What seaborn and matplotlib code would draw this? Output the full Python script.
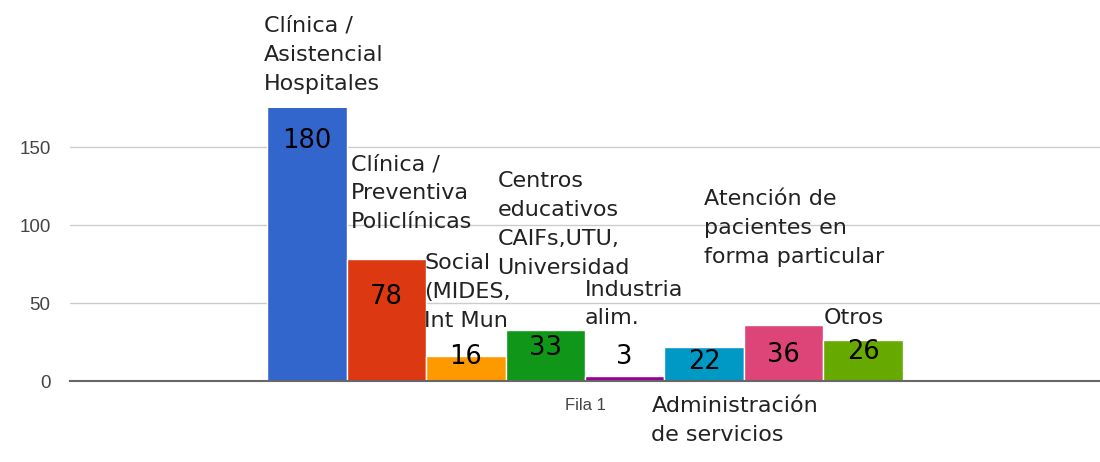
import pandas as pd
import matplotlib
matplotlib.use("Agg")
import matplotlib.pyplot as plt
import matplotlib.transforms as mtransforms
import seaborn as sns

# data
categories = ["Fila 1"]
series = [
    "Clínica /\nAsistencial\nHospitales",
    "Clínica /\nPreventiva\nPoliclínicas",
    "Social\n(MIDES,\nInt Mun",
    "Centros\neducativos\nCAIFs,UTU,\nUniversidad",
    "Industria\nalim.",
    "Administración\nde servicios",
    "Atención de\npacientes en\nforma particular",
    "Otros",
]
values = [180, 78, 16, 33, 3, 22, 36, 26]
colors = ["#3366cc", "#dc3912", "#ff9900", "#109618",
          "#990099", "#0099c6", "#dd4477", "#66aa00"]

# label layout (series name: top in data units, x shift in px; value label centre y)
name_top = [234, 145.5, 82, 134.5, 65, -9.5, 123, 47]
name_dx = [-3, 4, -2, -8, 0, -13, -40, 0]
value_y = [153.8, 53.8, 15.4, 21, 15.4, 12.2, 16.7, 18.6]

df = pd.DataFrame({
    "fila": categories * len(series),
    "serie": series,
    "valor": values,
})

sns.set_style("white")
plt.rcParams["font.family"] = ["DejaVu Sans"]

fig = plt.figure(figsize=(11, 4.62), dpi=100)
ax = fig.add_axes([70 / 1100, 81 / 462, 1030 / 1100, 273 / 462])

sns.barplot(data=df, x="fila", y="valor", hue="serie", hue_order=series,
            palette=colors, saturation=1, width=0.617, edgecolor="white",
            linewidth=1, legend=False, ax=ax)

ax.set_xlim(-0.5, 0.5)
ax.set_ylim(0, 175)
ax.set_yticks([0, 50, 100, 150])
ax.set_xlabel("")
ax.set_ylabel("")
ax.grid(axis="y", color="#cccccc", linewidth=1)
ax.set_axisbelow(True)
for s in ["top", "left", "right"]:
    ax.spines[s].set_visible(False)
ax.spines["bottom"].set_color("#666666")
ax.spines["bottom"].set_linewidth(1.5)
ax.tick_params(length=0, labelcolor="#444444", labelsize=13.5)
ax.tick_params(axis="y", pad=14)
ax.tick_params(axis="x", pad=12)
for lab in ax.get_xticklabels() + ax.get_yticklabels():
    lab.set_family("Liberation Sans")
for lab in ax.get_xticklabels():
    lab.set_fontsize(12)

for i, cont in enumerate(ax.containers):
    bar = cont[0]
    cx = bar.get_x() + bar.get_width() / 2
    ax.text(cx, value_y[i], str(values[i]), ha="center", va="center",
            fontsize=18.5, color="black")
    tr = mtransforms.offset_copy(ax.transData, fig=fig, x=name_dx[i], y=0, units="dots")
    ax.text(bar.get_x(), name_top[i], series[i], ha="left", va="top",
            fontsize=16, color="#222222", linespacing=1.55,
            transform=tr, clip_on=False)

fig.savefig("out.png", dpi=100)
